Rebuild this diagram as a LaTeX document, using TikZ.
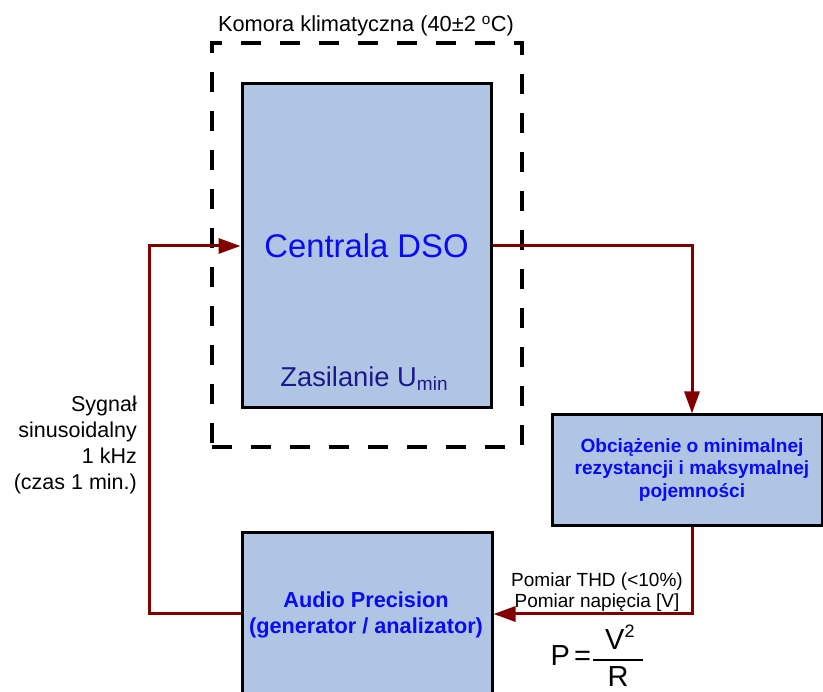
\documentclass[tikz,border=0pt]{standalone}
\usepackage{fontspec}
\setmainfont{Liberation Sans}
\usepackage{amsmath}
\usetikzlibrary{arrows.meta}
\definecolor{boxfill}{RGB}{176,196,228}
\definecolor{conred}{RGB}{128,0,0}
\definecolor{txtblue}{RGB}{10,10,245}
\definecolor{txtnavy}{RGB}{26,26,140}
\tikzset{
  blk/.style={draw=black, line width=3pt, fill=boxfill, inner sep=0pt},
  chamber/.style={draw=black, line width=4pt, dash pattern=on 20pt off 19pt, inner sep=0pt},
  conn/.style={draw=conred, line width=3pt},
  tip/.style={-{Triangle[length=22pt,width=15pt]}},
  lbl/.style={inner sep=0pt, text=black},
}
\begin{document}
\begin{tikzpicture}[x=1pt,y=-1pt]
\useasboundingbox (0,0) rectangle (823,692);
\clip (0,0) rectangle (823,692);

% climate chamber
\node[chamber, minimum width=310pt, minimum height=404pt] (komora) at (367,245) {};
\node[lbl, font=\fontsize{21.8}{26}\selectfont, anchor=base] (title) at (366,32) {Komora klimatyczna (40±2 \textsuperscript{o}C)};

% DSO unit
\node[blk, minimum width=249pt, minimum height=324pt, font=\fontsize{32.8}{38}\selectfont, text=txtblue] (centrala) at (366.5,245.5) {Centrala DSO};
\node[lbl, font=\fontsize{27.3}{30}\selectfont, text=txtnavy, anchor=base] (zas) at (364,387) {Zasilanie U\raisebox{-4pt}{\fontsize{19}{19}\selectfont min}};

% load
\node[blk, minimum width=270pt, minimum height=111pt] (obc) at (687,470.5) {};
\node[lbl, font=\bfseries\fontsize{19.1}{22.5}\selectfont, text=txtblue, align=center] (obctxt) at (692,470) {Obciążenie o minimalnej\\rezystancji i maksymalnej\\pojemności};

% audio precision
\node[blk, minimum width=250pt, minimum height=162pt] (audio) at (367,614) {};
\node[lbl, font=\bfseries\fontsize{21.7}{26}\selectfont, text=txtblue, align=center, anchor=north] (audiotxt) at (366,592) {Audio Precision\\(generator / analizator)};

% corner points
\coordinate (cr) at (692,246);
\coordinate (cl) at (149.5,614);

% connectors
\draw[conn, tip] (centrala.east |- cr) -- (cr) -- (cr |- obc.north);
\draw[conn, tip] (cr |- obc.south) -- (cr |- audio.east) -- (audio.east);
\draw[conn, tip] (audio.west) -- (cl) |- (centrala.west |- cr);

% labels
\node[lbl, font=\fontsize{21.5}{25.8}\selectfont, align=right, anchor=north east] (syg) at (137,396) {Sygnał\\sinusoidalny\\1 kHz\\(czas 1 min.)};
\node[lbl, font=\fontsize{19}{20.8}\selectfont, align=center, anchor=north] (pom) at (597,573) {Pomiar THD (<10\%)\\Pomiar napięcia [V]};
\node[lbl, font=\fontsize{29}{34}\selectfont, anchor=base west] (formula) at (550.5,666) {$\text{P\kern4pt=}\kern1pt\genfrac{}{}{2pt}{0}{\kern12pt\text{V}^{\text{\fontsize{18}{18}\selectfont 2}}\kern8pt}{\text{R}}$};
\end{tikzpicture}
\end{document}
